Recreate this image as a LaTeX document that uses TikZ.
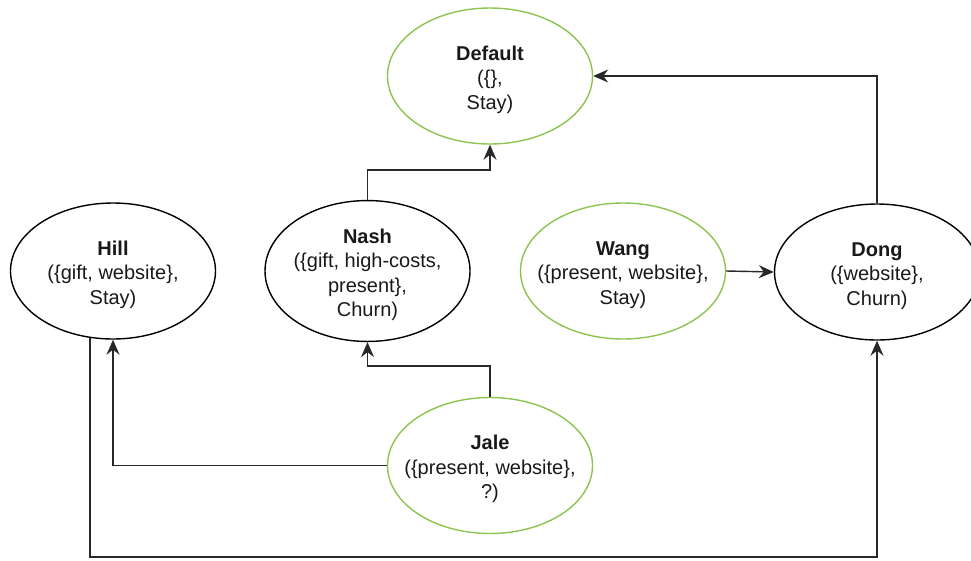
\documentclass[tikz,border=0pt]{standalone}
\usepackage{fontspec}
\setmainfont{Liberation Sans}
\usetikzlibrary{arrows.meta,shapes.geometric}
\definecolor{stategreen}{RGB}{141,195,80}
\definecolor{linegray}{RGB}{40,40,40}
\newcommand{\statename}[1]{\rule{0pt}{22pt}\textbf{#1}}
\tikzset{
  state/.style={ellipse, draw=black, line width=1.4pt, minimum width=205pt, minimum height=136pt,
    inner xsep=-25pt, inner ysep=0pt, align=center, font=\fontsize{20}{24.5}\selectfont, text=black!90},
  goodstate/.style={state, draw=stategreen},
  conn/.style={draw=linegray, line width=1.4pt, -{Stealth[length=15pt,width=13pt,inset=5pt]}}
}
\begin{document}
\begin{tikzpicture}[x=1pt,y=-1pt]
\useasboundingbox (0,0) rectangle (971,560);
\node[goodstate] (default) at (490,76) {\statename{Default}\\(\{\},\\Stay)};
\node[state] (hill) at (113,271) {\statename{Hill}\\(\{gift, website\},\\Stay)};
\node[state] (nash) at (367.5,271) {\statename{Nash}\\(\{gift, high-costs,\\present\},\\Churn)};
\node[goodstate] (wang) at (623,271) {\statename{Wang}\\(\{present, website\},\\Stay)};
\node[state] (dong) at (877,272) {\statename{Dong}\\(\{website\},\\Churn)};
\node[goodstate] (jale) at (490,465.5) {\statename{Jale}\\(\{present, website\},\\?)};

\draw[conn] (nash.north) -- (nash.north |- 0,170) -- (default.south |- 0,170) -- (default.south);
\draw[conn] (dong.north) |- (default.east);
\draw[conn] (wang.east) -- (dong.west);
\draw[conn] (jale.north) -- (jale.north |- 0,366) -- (nash.south |- 0,366) -- (nash.south);
\draw[conn] (jale.west) -| (hill.south);
\draw[conn] (hill.251) -- (hill.251 |- 0,557) -- (dong.south |- 0,557) -- (dong.south);
\end{tikzpicture}
\end{document}
